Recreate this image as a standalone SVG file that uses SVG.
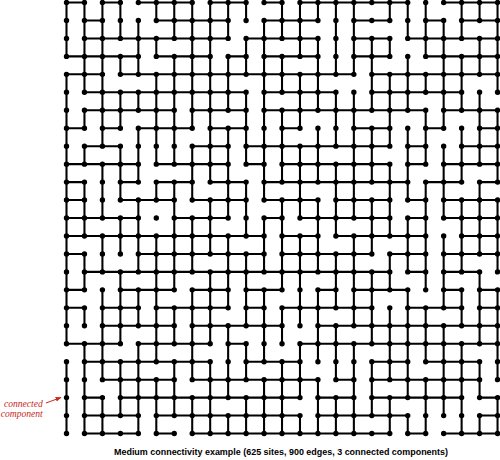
<svg xmlns="http://www.w3.org/2000/svg" width="500" height="460" viewBox="0 0 500 460">
<style>
.e{fill:none;stroke:#000;stroke-width:0.115;stroke-linecap:square}
.s{fill:none;stroke:#000;stroke-width:0.3;stroke-linecap:round;stroke-dasharray:0 1}
.cap{font-family:"Liberation Sans",Arial,sans-serif;font-weight:bold;font-size:9px;fill:#000}
.lab{font-family:"Liberation Serif","DejaVu Serif",serif;font-style:italic;font-size:9.6px;fill:#c8281e}
</style>
<defs>
<marker id="ah" viewBox="0 0 10 10" refX="9" refY="5" markerWidth="6" markerHeight="6" orient="auto"><path d="M0 1L10 5L0 9z" fill="#c8281e"/></marker>
</defs>
<rect width="500" height="460" fill="#fff"/>
<g id="lattice" transform="translate(66.5 2.5) scale(17.96)">
<g id="connectors">
<path class="e" d="M0 0h1M2 0h1M4 0h3M8 0h2M11 0h1M13 0h6M21 0h3"/>
<path class="e" d="M1 1h1M5 1h4M11 1h3M16 1h2M20 1h1M22 1h2"/>
<path class="e" d="M1 2h8M10 2h4M16 2h2M19 2h5"/>
<path class="e" d="M0 3h4M5 3h3M9 3h1M11 3h3M16 3h2M20 3h4"/>
<path class="e" d="M0 4h2M3 4h13M17 4h7"/>
<path class="e" d="M1 5h9M11 5h4M17 5h5"/>
<path class="e" d="M1 6h5M7 6h3M11 6h9M21 6h3"/>
<path class="e" d="M0 7h1M2 7h1M4 7h3M8 7h2M12 7h1M16 7h2M20 7h1M23 7h1"/>
<path class="e" d="M1 8h2M7 8h2M10 8h8M19 8h1M22 8h2"/>
<path class="e" d="M0 9h4M5 9h4M10 9h1M12 9h6M19 9h1M21 9h3"/>
<path class="e" d="M0 10h1M3 10h1M5 10h2M8 10h2M11 10h8M20 10h2M23 10h1"/>
<path class="e" d="M0 11h1M3 11h3M7 11h3M11 11h3M15 11h3M19 11h1M21 11h3"/>
<path class="e" d="M0 12h4M6 12h3M11 12h1M13 12h5M19 12h1M21 12h3"/>
<path class="e" d="M0 13h11M12 13h2M15 13h5M22 13h2"/>
<path class="e" d="M0 14h1M4 14h7M12 14h5M18 14h2M21 14h3"/>
<path class="e" d="M1 15h17M19 15h1M21 15h2"/>
<path class="e" d="M0 16h1M3 16h3M7 16h2M10 16h2M14 16h1M16 16h3M21 16h1M23 16h1"/>
<path class="e" d="M0 17h1M2 17h2M5 17h4M10 17h1M12 17h5M19 17h3M23 17h1"/>
<path class="e" d="M2 18h4M7 18h5M14 18h10"/>
<path class="e" d="M0 19h3M4 19h4M9 19h1M13 19h11"/>
<path class="e" d="M1 20h7M10 20h3M17 20h2M20 20h3"/>
<path class="e" d="M2 21h4M7 21h7M15 21h1M17 21h6"/>
<path class="e" d="M1 22h1M3 22h10M14 22h2M17 22h5M23 22h1"/>
<path class="e" d="M1 23h3M5 23h8M14 23h5M23 23h1"/>
<path class="e" d="M1 24h3M5 24h1M7 24h11M19 24h1M21 24h3"/>
<path class="e" d="M0 0v3M0 4v15M0 20v4"/>
<path class="e" d="M1 0v5M1 6v1M1 8v1M1 10v3M1 14v2M1 17v1M1 19v5"/>
<path class="e" d="M2 0v8M2 9v3M2 13v2M2 16v5M2 22v2"/>
<path class="e" d="M3 0v2M3 3v1M3 5v2M3 8v3M3 12v2M3 15v4M3 20v3"/>
<path class="e" d="M4 1v3M4 5v1M4 7v3M4 11v4M4 16v2M4 19v5"/>
<path class="e" d="M5 0v1M5 2v1M5 4v5M5 10v1M5 13v7M5 21v3"/>
<path class="e" d="M6 0v2M6 3v6M6 10v6M6 17v2M6 20v3"/>
<path class="e" d="M7 0v7M7 8v3M7 12v3M7 16v5M7 22v2"/>
<path class="e" d="M8 0v10M8 11v3M8 15v4M8 20v4"/>
<path class="e" d="M9 0v2M9 3v3M9 7v5M9 13v4M9 18v4M9 23v1"/>
<path class="e" d="M10 0v1M10 2v2M10 5v4M10 10v3M10 14v4M10 19v2M10 22v2"/>
<path class="e" d="M11 1v10M11 12v3M11 16v4M11 21v3"/>
<path class="e" d="M12 0v2M12 3v2M12 6v4M12 11v5M12 17v2M12 20v4"/>
<path class="e" d="M13 0v3M13 4v3M13 8v4M13 13v5M13 19v3M13 23v1"/>
<path class="e" d="M14 0v1M14 2v4M14 7v3M14 11v4M14 16v4M14 21v3"/>
<path class="e" d="M15 0v4M15 5v3M15 9v4M15 14v3M15 18v3M15 22v2"/>
<path class="e" d="M16 0v4M16 5v7M16 13v5M16 19v5"/>
<path class="e" d="M17 2v4M17 7v3M17 11v3M17 15v4M17 20v3"/>
<path class="e" d="M18 0v1M18 2v1M18 4v4M18 9v4M18 14v2M18 17v4M18 22v2"/>
<path class="e" d="M19 0v2M19 3v3M19 7v4M19 12v3M19 16v6M19 23v1"/>
<path class="e" d="M20 0v3M20 4v1M20 6v3M20 10v6M20 17v3M20 21v3"/>
<path class="e" d="M21 1v6M21 8v4M21 13v4M21 18v5"/>
<path class="e" d="M22 0v2M22 3v3M22 7v3M22 11v4M22 16v2M22 19v5"/>
<path class="e" d="M23 0v1M23 2v2M23 5v4M23 10v4M23 15v4M23 20v2M23 23v1"/>
<path class="e" d="M24 0v5M24 6v4M24 11v4M24 16v5M24 22v2"/>
</g>
<g id="sites">
<line class="s" x1="0" y1="0" x2="24.01" y2="0"/>
<line class="s" x1="0" y1="1" x2="24.01" y2="1"/>
<line class="s" x1="0" y1="2" x2="24.01" y2="2"/>
<line class="s" x1="0" y1="3" x2="24.01" y2="3"/>
<line class="s" x1="0" y1="4" x2="24.01" y2="4"/>
<line class="s" x1="0" y1="5" x2="24.01" y2="5"/>
<line class="s" x1="0" y1="6" x2="24.01" y2="6"/>
<line class="s" x1="0" y1="7" x2="24.01" y2="7"/>
<line class="s" x1="0" y1="8" x2="24.01" y2="8"/>
<line class="s" x1="0" y1="9" x2="24.01" y2="9"/>
<line class="s" x1="0" y1="10" x2="24.01" y2="10"/>
<line class="s" x1="0" y1="11" x2="24.01" y2="11"/>
<line class="s" x1="0" y1="12" x2="24.01" y2="12"/>
<line class="s" x1="0" y1="13" x2="24.01" y2="13"/>
<line class="s" x1="0" y1="14" x2="24.01" y2="14"/>
<line class="s" x1="0" y1="15" x2="24.01" y2="15"/>
<line class="s" x1="0" y1="16" x2="24.01" y2="16"/>
<line class="s" x1="0" y1="17" x2="24.01" y2="17"/>
<line class="s" x1="0" y1="18" x2="24.01" y2="18"/>
<line class="s" x1="0" y1="19" x2="24.01" y2="19"/>
<line class="s" x1="0" y1="20" x2="24.01" y2="20"/>
<line class="s" x1="0" y1="21" x2="24.01" y2="21"/>
<line class="s" x1="0" y1="22" x2="24.01" y2="22"/>
<line class="s" x1="0" y1="23" x2="24.01" y2="23"/>
<line class="s" x1="0" y1="24" x2="24.01" y2="24"/>
</g>
</g>
<g id="annotation">
<text class="lab" x="42.8" y="407" text-anchor="end">connected</text>
<text class="lab" x="42.8" y="416.5" text-anchor="end">component</text>
<line x1="46" y1="403" x2="61" y2="397.5" stroke="#c8281e" stroke-width="1" marker-end="url(#ah)"/>
</g>
<text id="caption" class="cap" x="281" y="455" text-anchor="middle" textLength="334" lengthAdjust="spacingAndGlyphs">Medium connectivity example (625 sites, 900 edges, 3 connected components)</text>
</svg>
